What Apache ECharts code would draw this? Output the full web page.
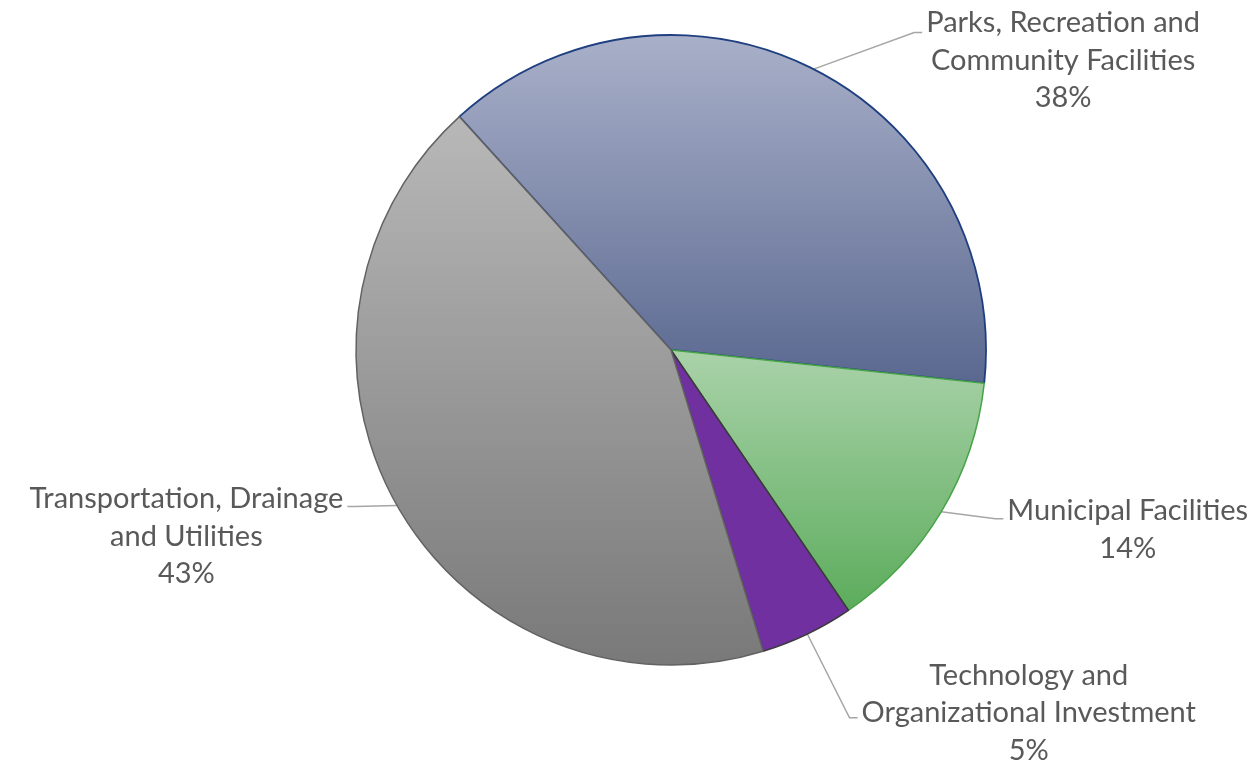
<!DOCTYPE html>
<html><head><meta charset="utf-8">
<script src="https://cdn.jsdelivr.net/npm/echarts@6/dist/echarts.min.js"></script>
<style>html,body{margin:0;padding:0;background:#fff}#c{width:1253px;height:762px}</style>
</head><body><div id="c"></div>
<script>
const categories = [
  'Parks, Recreation and\nCommunity Facilities',
  'Municipal Facilities',
  'Technology and\nOrganizational Investment',
  'Transportation, Drainage\nand Utilities'
];
const values = [38.4, 13.8, 4.8, 43.0];

const FONT = 'Lato';
const FS = 29;
const LH = 37.5;
const TXT = '#595959';
const CENTER = [671, 350];
const GAP = 4;
const ELBOW = 8;

function grad(top, bottom) {
  return new echarts.graphic.LinearGradient(0, 0, 0, 1, [
    { offset: 0, color: top }, { offset: 1, color: bottom }
  ]);
}

const styles = [
  { itemStyle: { color: grad('#a9b0c9', '#5a6890'), borderColor: '#1f3f80', borderWidth: 1.8 },
    label: { padding: [56, 0, 0, 0] }, labelLine: { length: 41, length2: 90 } },
  { itemStyle: { color: grad('#aad2aa', '#5cac5c'), borderColor: '#48a448', borderWidth: 1.5 },
    label: { padding: [22, 0, 0, 0] }, labelLine: { length: 14, length2: 50 } },
  { itemStyle: { color: '#7030a0', borderColor: '#3a3a3a', borderWidth: 1.5 },
    label: { padding: [0, 0, 10, 0] }, labelLine: { length: 93, length2: 10 } },
  { itemStyle: { color: grad('#b8b8b8', '#797979'), borderColor: '#626262', borderWidth: 1.5 },
    label: { padding: [60, 0, 0, 0] }, labelLine: { length: 2, length2: 48 } }
];

const data = categories.map((name, i) => Object.assign({ name: name, value: values[i] }, styles[i]));

const chart = echarts.init(document.getElementById('c'), null, { renderer: 'canvas' });
chart.setOption({
  backgroundColor: '#ffffff',
  animation: false,
  series: [{
    type: 'pie',
    left: 0, top: 0, width: 1600, height: 1000,
    center: CENTER,
    radius: 315,
    startAngle: 132.2,
    clockwise: true,
    avoidLabelOverlap: false,
    data: data,
    label: {
      show: true,
      position: 'outside',
      alignTo: 'none',
      distanceToLabelLine: GAP,
      fontFamily: FONT,
      fontSize: FS,
      lineHeight: LH,
      color: TXT,
      formatter: function (p) {
        const lines = p.name.split('\n').map(l => '{c|' + l + '}');
        lines.push('{c|' + Math.round(p.percent) + '%}');
        return lines.join('\n');
      },
      rich: {
        c: { align: 'center', fontFamily: FONT, fontSize: FS, lineHeight: LH, color: TXT }
      }
    },
    labelLine: {
      show: true,
      lineStyle: { color: '#a6a6a6', width: 1.5 }
    },
    labelLayout: function (params) {
      const pts = params.labelLinePoints;
      if (!pts || !pts.length) return {};
      const i = params.dataIndex;
      const p0 = pts[0];
      const vx = p0[0] - CENTER[0], vy = p0[1] - CENTER[1];
      const d = Math.hypot(vx, vy) || 1;
      const L = styles[i].labelLine.length, L2 = styles[i].labelLine.length2;
      const side = vx >= 0 ? 1 : -1;
      const endX = p0[0] + vx / d * L + side * L2;
      const endY = p0[1] + vy / d * L;
      return {
        x: endX + side * GAP,
        y: endY,
        align: side > 0 ? 'left' : 'right',
        verticalAlign: 'middle',
        labelLinePoints: [p0, [endX - side * ELBOW, endY], [endX, endY]]
      };
    },
    emphasis: { disabled: true }
  }]
});
</script>
</body></html>
